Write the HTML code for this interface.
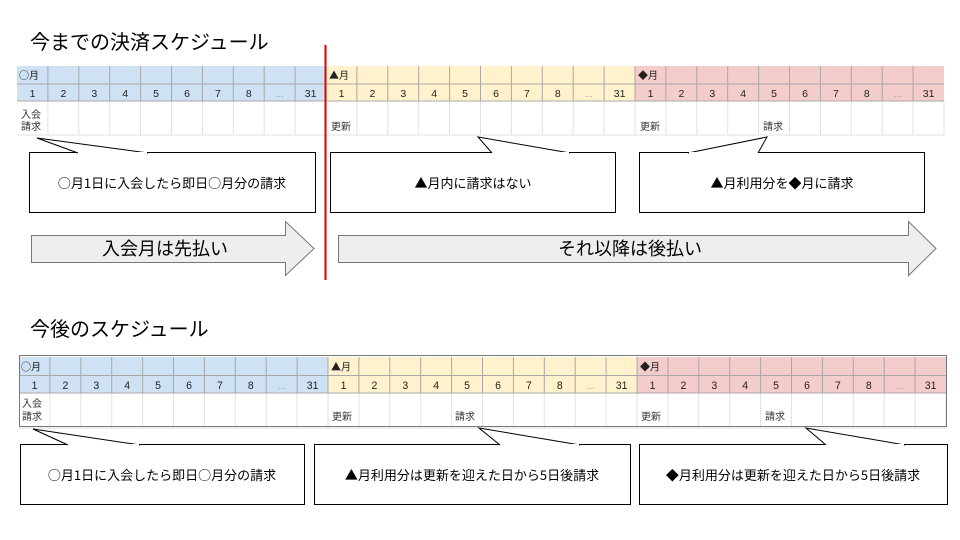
<!DOCTYPE html>
<html><head><meta charset="utf-8"><style>
html,body{margin:0;padding:0;background:#fff;}
svg{display:block;font-family:"Liberation Sans","Noto Sans CJK JP",sans-serif;}
.cjk{font-family:"Noto Sans CJK JP",sans-serif;}
</style></head><body>
<svg width="960" height="540" viewBox="0 0 960 540" xmlns="http://www.w3.org/2000/svg">
<defs>
<g id="tbl">
  <rect x="17" y="66" width="309" height="35" fill="#cfe2f3"/>
  <rect x="326" y="66" width="309" height="35" fill="#fff2cc"/>
  <rect x="635" y="66" width="309" height="35" fill="#f4cccc"/>
  <g stroke="#e2e2e2" stroke-width="1">
    <path d="M47.9 101V135M78.8 101V135M109.7 101V135M140.6 101V135M171.5 101V135M202.4 101V135M233.3 101V135M264.2 101V135M295.1 101V135M326 101V135M356.9 101V135M387.8 101V135M418.7 101V135M449.6 101V135M480.5 101V135M511.4 101V135M542.3 101V135M573.2 101V135M604.1 101V135M635 101V135M665.9 101V135M696.8 101V135M727.7 101V135M758.6 101V135M789.5 101V135M820.4 101V135M851.3 101V135M882.2 101V135M913.1 101V135M944 101V135M17 135H944"/>
  </g>
  <g stroke="#a8a8a8" stroke-width="1">
    <path d="M47.9 66V101M78.8 66V101M109.7 66V101M140.6 66V101M171.5 66V101M202.4 66V101M233.3 66V101M264.2 66V101M295.1 66V101M326 66V101M356.9 66V101M387.8 66V101M418.7 66V101M449.6 66V101M480.5 66V101M511.4 66V101M542.3 66V101M573.2 66V101M604.1 66V101M635 66V101M665.9 66V101M696.8 66V101M727.7 66V101M758.6 66V101M789.5 66V101M820.4 66V101M851.3 66V101M882.2 66V101M913.1 66V101M17 84H944M17 101H944"/>
  </g>
  <g font-size="10" fill="#222" class="cjk">
    <text x="19" y="79">○月</text><text x="329" y="79">▲月</text><text x="638" y="79">◆月</text>
  </g>
  <g font-size="10.5" fill="#222" text-anchor="middle">
    <text x="32.5" y="97">1</text><text x="63.4" y="97">2</text><text x="94.3" y="97">3</text><text x="125.2" y="97">4</text><text x="156.1" y="97">5</text><text x="187" y="97">6</text><text x="217.9" y="97">7</text><text x="248.8" y="97">8</text><text x="279.7" y="97" fill="#888" font-size="8">…</text><text x="310.6" y="97">31</text>
    <text x="341.5" y="97">1</text><text x="372.4" y="97">2</text><text x="403.3" y="97">3</text><text x="434.2" y="97">4</text><text x="465.1" y="97">5</text><text x="496" y="97">6</text><text x="526.9" y="97">7</text><text x="557.8" y="97">8</text><text x="588.7" y="97" fill="#888" font-size="8">…</text><text x="619.6" y="97">31</text>
    <text x="650.5" y="97">1</text><text x="681.4" y="97">2</text><text x="712.3" y="97">3</text><text x="743.2" y="97">4</text><text x="774.1" y="97">5</text><text x="805" y="97">6</text><text x="835.9" y="97">7</text><text x="866.8" y="97">8</text><text x="897.7" y="97" fill="#888" font-size="8">…</text><text x="928.6" y="97">31</text>
  </g>
</g>
</defs>

<text x="30" y="49" font-size="20" fill="#000">今までの決済スケジュール</text>
<use href="#tbl"/>
<g font-size="10" fill="#333">
  <text x="21" y="118">入会</text><text x="21" y="130">請求</text>
  <text x="331" y="130">更新</text><text x="640" y="130">更新</text><text x="763" y="130">請求</text>
</g>

<g fill="#fff" stroke="#000" stroke-width="1">
  <rect x="29.5" y="152.5" width="286" height="60"/>
  <rect x="330.5" y="152.5" width="285" height="60"/>
  <rect x="639.5" y="152.5" width="285" height="60"/>
</g>
<g fill="#fff" stroke="#000" stroke-width="1">
  <path d="M78 153L37 138L148 153"/>
  <path d="M492 153L478 137L570 153"/>
  <path d="M758 153L767 137L688 153"/>
</g>
<g fill="#fff"><rect x="79" y="152" width="68" height="2"/><rect x="493" y="152" width="76" height="2"/><rect x="689" y="152" width="68" height="2"/></g>
<g font-size="13" fill="#000" text-anchor="middle" class="cjk">
  <text x="172" y="188">○月1日に入会したら即日○月分の請求</text>
  <text x="473" y="188">▲月内に請求はない</text>
  <text x="782" y="188">▲月利用分を◆月に請求</text>
</g>

<g fill="#eeeeee" stroke="#777" stroke-width="1">
  <path d="M31.5 235.5H285.5V221.5L314 248.5L285.5 275.5V262.5H31.5Z"/>
  <path d="M338.5 235.5H908.5V221.5L936 248.5L908.5 275.5V262.5H338.5Z"/>
</g>
<g font-size="18" fill="#000" text-anchor="middle">
  <text x="165" y="255">入会月は先払い</text>
  <text x="630" y="255">それ以降は後払い</text>
</g>
<line x1="325.5" y1="45" x2="325.5" y2="280" stroke="#e00000" stroke-width="2"/>

<text x="30" y="336" font-size="20" fill="#000">今後のスケジュール</text>
<g transform="translate(2,289) scale(1,1.03)"><use href="#tbl"/></g>
<rect x="19.5" y="355.5" width="927" height="71" fill="none" stroke="#777" stroke-width="1"/>
<g font-size="10" fill="#333">
  <text x="22" y="407">入会</text><text x="22" y="420">請求</text>
  <text x="332" y="420">更新</text><text x="455" y="420">請求</text>
  <text x="641" y="420">更新</text><text x="765" y="420">請求</text>
</g>
<g fill="#fff" stroke="#000" stroke-width="1">
  <rect x="20.5" y="444.5" width="284" height="60"/>
  <rect x="314.5" y="444.5" width="316" height="60"/>
  <rect x="639.5" y="444.5" width="308" height="60"/>
</g>
<g fill="#fff" stroke="#000" stroke-width="1">
  <path d="M68 445L33 429L140 445"/>
  <path d="M500 445L479 428L580 445"/>
  <path d="M826 445L806 428L905 445"/>
</g>
<g fill="#fff"><rect x="69" y="444" width="70" height="2"/><rect x="501" y="444" width="78" height="2"/><rect x="827" y="444" width="77" height="2"/></g>
<g font-size="13" fill="#000" text-anchor="middle" class="cjk">
  <text x="162" y="480">○月1日に入会したら即日○月分の請求</text>
  <text x="472" y="480">▲月利用分は更新を迎えた日から5日後請求</text>
  <text x="793" y="480">◆月利用分は更新を迎えた日から5日後請求</text>
</g>
</svg>
</body></html>
